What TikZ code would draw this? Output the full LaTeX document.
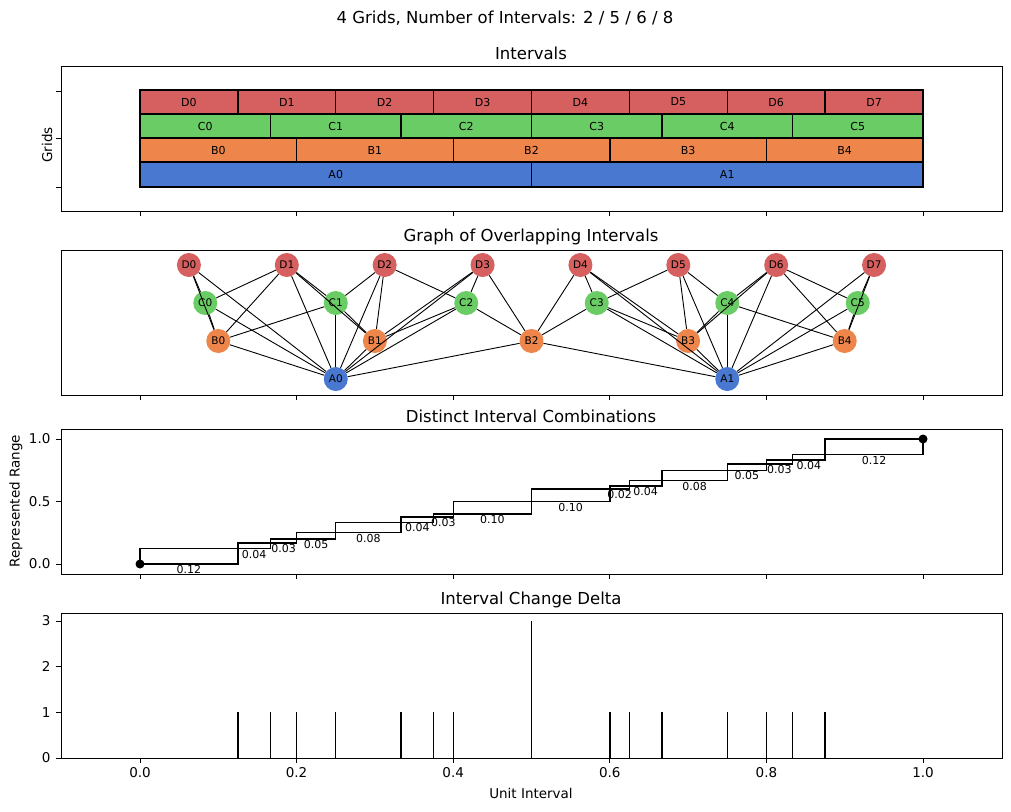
\documentclass[tikz,border=0pt]{standalone}
\usepackage{fontspec}
\setmainfont{DejaVu Sans}
\definecolor{gridD}{HTML}{D65F5F}
\definecolor{gridC}{HTML}{6ACC64}
\definecolor{gridB}{HTML}{EE854A}
\definecolor{gridA}{HTML}{4878D0}
\begin{document}
\begin{tikzpicture}[x=1pt,y=-1pt,
  declare function={px(\v)=140+783*\v; ry(\v)=564-125*\v; dy(\v)=758-45.7*\v;},
  axes/.style={draw,line width=0.8pt},
  tick/.style={line width=0.8pt},
  title/.style={font=\fontsize{16.5}{18}\selectfont},
  ticklabel/.style={font=\fontsize{13.5}{15}\selectfont},
  small/.style={font=\fontsize{11}{12}\selectfont},
  bar/.style={draw,line width=1.4pt},
  stairs/.style={line width=1.4pt},
  vtx/.style={circle,inner sep=0pt,minimum size=24pt,font=\fontsize{10.5}{11}\selectfont}]
  \fill[white] (0,0) rectangle (1011,811);
  \useasboundingbox (0,0) rectangle (1011,811);

  \node[title] (sup) at (505,18) {4 Grids, Number of Intervals: 2 / 5 / 6 / 8};

  % intervals
  \node[title] at (531,53) {Intervals};
  \draw[axes] (61,66) rectangle (1002,211);
  \node[ticklabel,rotate=90] at (47,145) {Grids};
  \foreach \y in {91,138,187} \draw[tick] (61,\y) -- ++(-5,0);
  \foreach \i in {0,...,7}
    \draw[bar,fill=gridD] ({px(\i/8)},90) rectangle ({px((\i+1)/8)},114) node[midway,small] {D\i};
  \foreach \i in {0,...,5}
    \draw[bar,fill=gridC] ({px(\i/6)},114) rectangle ({px((\i+1)/6)},138) node[midway,small] {C\i};
  \foreach \i in {0,...,4}
    \draw[bar,fill=gridB] ({px(\i/5)},138) rectangle ({px((\i+1)/5)},162) node[midway,small] {B\i};
  \foreach \i in {0,1}
    \draw[bar,fill=gridA] ({px(\i/2)},162) rectangle ({px((\i+1)/2)},187) node[midway,small] {A\i};
  \foreach \v in {0,0.2,0.4,0.6,0.8,1} {
    \draw[tick] ({px(\v)},211) -- ++(0,5);
    \draw[tick] ({px(\v)},395) -- ++(0,5);
    \draw[tick] ({px(\v)},574) -- ++(0,5);
  }

  % graph of overlaps
  \node[title] at (531,237) {Graph of Overlapping Intervals};
  \draw[axes] (61,250) rectangle (1002,395);
  \foreach \p/\q in {D0/C0,D1/C0,D1/C1,D2/C1,D2/C2,D3/C2,D4/C3,D5/C3,D5/C4,D6/C4,D6/C5,D7/C5,
    D0/B0,D1/B0,D1/B1,D2/B1,D3/B1,D3/B2,D4/B2,D4/B3,D5/B3,D6/B3,D6/B4,D7/B4,
    D0/A0,D1/A0,D2/A0,D3/A0,D4/A1,D5/A1,D6/A1,D7/A1,
    C0/B0,C1/B0,C1/B1,C2/B1,C2/B2,C3/B2,C3/B3,C4/B3,C4/B4,C5/B4,
    C0/A0,C1/A0,C2/A0,C3/A1,C4/A1,C5/A1,
    B0/A0,B1/A0,B2/A0,B2/A1,B3/A1,B4/A1}{}
  \foreach \i in {0,...,7} \node[vtx,fill=gridD] (D\i) at ({px((\i+0.5)/8)},265) {D\i};
  \foreach \i in {0,...,5} \node[vtx,fill=gridC] (C\i) at ({px((\i+0.5)/6)},303) {C\i};
  \foreach \i in {0,...,4} \node[vtx,fill=gridB] (B\i) at ({px((\i+0.5)/5)},341) {B\i};
  \foreach \i in {0,1} \node[vtx,fill=gridA] (A\i) at ({px((\i+0.5)/2)},379) {A\i};
  \foreach \p/\q in {D0/C0,D1/C0,D1/C1,D2/C1,D2/C2,D3/C2,D4/C3,D5/C3,D5/C4,D6/C4,D6/C5,D7/C5,
    D0/B0,D1/B0,D1/B1,D2/B1,D3/B1,D3/B2,D4/B2,D4/B3,D5/B3,D6/B3,D6/B4,D7/B4,
    D0/A0,D1/A0,D2/A0,D3/A0,D4/A1,D5/A1,D6/A1,D7/A1,
    C0/B0,C1/B0,C1/B1,C2/B1,C2/B2,C3/B2,C3/B3,C4/B3,C4/B4,C5/B4,
    C0/A0,C1/A0,C2/A0,C3/A1,C4/A1,C5/A1,
    B0/A0,B1/A0,B2/A0,B2/A1,B3/A1,B4/A1}
    \draw[line width=0.9pt] (\p) -- (\q);

  % combinations
  \node[title] at (531,416) {Distinct Interval Combinations};
  \draw[axes] (61,429) rectangle (1002,574);
  \node[ticklabel,rotate=90] at (16,501) {Represented Range};
  \foreach \v/\t in {0/0.0,0.5/0.5,1/1.0} {
    \draw[tick] (61,{ry(\v)}) -- ++(-5,0);
    \node[ticklabel,anchor=east] at (54,{ry(\v)}) {\t};
  }
  \foreach \a/\b/\t in {0/0.125/0.12,0.125/0.16667/0.04,0.16667/0.2/0.03,0.2/0.25/0.05,
    0.25/0.33333/0.08,0.33333/0.375/0.04,0.375/0.4/0.03,0.4/0.5/0.10,0.5/0.6/0.10,
    0.6/0.625/0.02,0.625/0.66667/0.04,0.66667/0.75/0.08,0.75/0.8/0.05,
    0.8/0.83333/0.03,0.83333/0.875/0.04,0.875/1/0.12} {
    \draw[stairs] ({px(\a)},{ry(\a)}) -| ({px(\b)},{ry(\b)});
    \draw[stairs] ({px(\a)},{ry(\a)}) |- ({px(\b)},{ry(\b)});
    \node[small] at ({px((\a+\b)/2)},{ry(\a-0.045)}) {\t};
  }
  \fill ({px(0)},{ry(0)}) circle (4.5);
  \fill ({px(1)},{ry(1)}) circle (4.5);

  % change delta
  \node[title] at (531,600) {Interval Change Delta};
  \draw[axes] (61,613) rectangle (1002,758);
  \node[ticklabel] at (531,793) {Unit Interval};
  \foreach \v in {0,...,3} {
    \draw[tick] (61,{dy(\v)}) -- ++(-5,0);
    \node[ticklabel,anchor=east] at (54,{dy(\v)}) {\v};
  }
  \foreach \v/\t in {0/0.0,0.2/0.2,0.4/0.4,0.6/0.6,0.8/0.8,1/1.0} {
    \draw[tick] ({px(\v)},758) -- ++(0,5);
    \node[ticklabel,anchor=north] at ({px(\v)},764) {\t};
  }
  \foreach \x/\h in {0.125/1,0.16667/1,0.2/1,0.25/1,0.33333/1,0.375/1,0.4/1,0.5/3,
    0.6/1,0.625/1,0.66667/1,0.75/1,0.8/1,0.83333/1,0.875/1}
    \draw[stairs] ({px(\x)},758) -- ({px(\x)},{dy(\h)});
\end{tikzpicture}
\end{document}
